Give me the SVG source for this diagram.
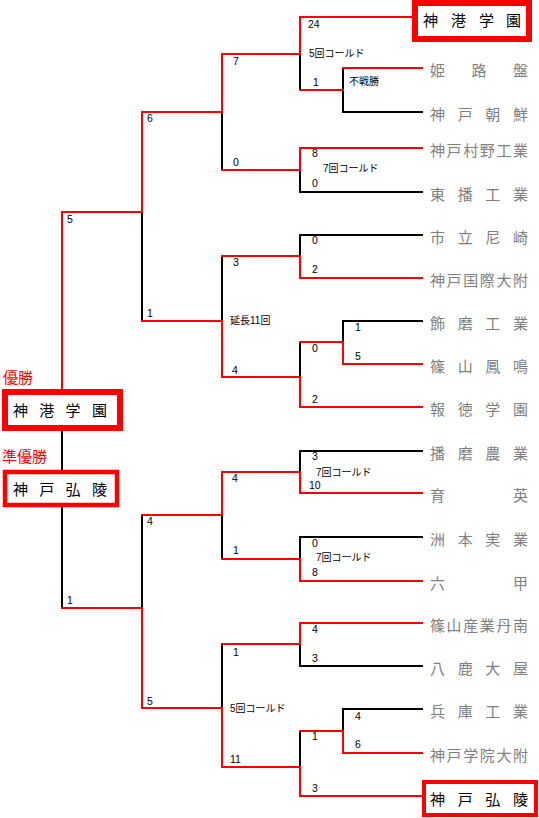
<svg xmlns="http://www.w3.org/2000/svg" width="539" height="818" viewBox="0 0 539 818">
<style>
.r{stroke:#ff0000;stroke-width:2;fill:none;stroke-linecap:square}
.k{stroke:#000;stroke-width:2;fill:none;stroke-linecap:square}
.t{font-family:"Noto Sans CJK JP","Liberation Sans",sans-serif;font-size:15px;fill:#7f7f7f}
.w{font-family:"Noto Sans CJK JP","Liberation Sans",sans-serif;font-size:15px;fill:#000}
.n{font-family:"Liberation Sans","Noto Sans CJK JP",sans-serif;font-size:10.5px;fill:#000}
.a{font-family:"Liberation Sans","Noto Sans CJK JP",sans-serif;font-size:10px;fill:#000}
.lab{font-family:"Noto Sans CJK JP","Liberation Sans",sans-serif;font-size:15px;fill:#ff0000}
.box{fill:#fff;stroke:#ff0000}
</style>
<rect width="539" height="818" fill="#fff"/>
<g id="connectors">
<path class="k" d="M343 112H422 M300 192H422 M300 235H422 M343 321H422 M300 451H422 M300 537H422 M300 666H422 M343 709H422"/>
<path class="k" d="M343 68V112 M343 321V342 M343 709V731 M300 54V90 M300 170V192 M300 235V256 M300 342V377 M300 451V472 M300 537V559 M300 644V666 M300 731V767 M222 112V170 M222 256V321 M222 515V559 M222 644V708 M142 212V321 M142 515V608 M62 431V470 M62 507V608"/>
<path class="r" d="M300 17H412 M343 68H422 M300 148H422 M300 278H422 M343 364H422 M300 407H422 M300 493H422 M300 581H422 M300 623H422 M343 753H422 M300 796H422"/>
<path class="r" d="M300 90H343 M300 342H343V364 M300 731H343V753"/>
<path class="r" d="M300 17V54H222 M300 148V170H222 M300 278V256H222 M300 407V377H222 M300 493V472H222 M300 581V559H222 M300 623V644H222 M300 796V767H222"/>
<path class="r" d="M222 54V112H142 M222 377V321H142 M222 472V515H142 M222 767V708H142"/>
<path class="r" d="M142 112V212H62V389 M142 708V608H62"/>
</g>
<g id="scores">
<text class="n" x="308" y="28">24</text>
<text class="a" x="309" y="57">5回コールド</text>
<text class="n" x="313" y="86">1</text>
<text class="a" x="349" y="85">不戦勝</text>
<text class="n" x="312" y="157">8</text>
<text class="a" x="323" y="172">7回コールド</text>
<text class="n" x="312" y="187">0</text>
<text class="n" x="233" y="65">7</text>
<text class="n" x="233" y="166">0</text>
<text class="n" x="147" y="122">6</text>
<text class="n" x="147" y="317">1</text>
<text class="n" x="67" y="223">5</text>
<text class="n" x="312" y="244">0</text>
<text class="n" x="312" y="273">2</text>
<text class="n" x="355" y="331">1</text>
<text class="n" x="355" y="360">5</text>
<text class="n" x="312" y="352">0</text>
<text class="n" x="312" y="403">2</text>
<text class="n" x="233" y="266">3</text>
<text class="a" x="230" y="324">延長11回</text>
<text class="n" x="232" y="374">4</text>
<text class="n" x="312" y="460">3</text>
<text class="a" x="316" y="476">7回コールド</text>
<text class="n" x="309" y="489">10</text>
<text class="n" x="232" y="482">4</text>
<text class="n" x="312" y="547">0</text>
<text class="a" x="316" y="561">7回コールド</text>
<text class="n" x="312" y="576">8</text>
<text class="n" x="233" y="554">1</text>
<text class="n" x="147" y="525">4</text>
<text class="n" x="67" y="604">1</text>
<text class="n" x="147" y="705">5</text>
<text class="n" x="312" y="633">4</text>
<text class="n" x="312" y="662">3</text>
<text class="n" x="233" y="656">1</text>
<text class="a" x="230" y="712">5回コールド</text>
<text class="n" x="355" y="720">4</text>
<text class="n" x="312" y="740">1</text>
<text class="n" x="355" y="748">6</text>
<text class="n" x="230" y="763">11</text>
<text class="n" x="312" y="792">3</text>
</g>
<g id="champion">
<text class="lab" x="3" y="383">優勝</text>
<rect class="box" x="5" y="392" width="115" height="36" stroke-width="6"/>
<text class="w" x="13 39.3 65.6 92" y="416">神港学園</text>
</g>
<g id="runnerup">
<text class="lab" x="2" y="462">準優勝</text>
<rect class="box" x="5" y="472" width="112" height="33" stroke-width="4.5"/>
<text class="w" x="13 39.3 65.6 92" y="495">神戸弘陵</text>
</g>
<g id="team-shinko">
<rect class="box" x="415" y="3" width="114" height="36" stroke-width="6"/>
<text class="w" x="423 451 479 506" y="26">神港学園</text>
</g>
<g id="team-himeji"><text class="t" x="430 471.5 513" y="76">姫路盤</text></g>
<g id="team-kobechosen"><text class="t" x="430 457.7 485.3 513" y="120">神戸朝鮮</text></g>
<g id="team-muranokogyo"><text class="t" x="430 446.6 463.2 479.8 496.4 513" y="156">神戸村野工業</text></g>
<g id="team-tobankogyo"><text class="t" x="430 457.7 485.3 513" y="200">東播工業</text></g>
<g id="team-amagasaki"><text class="t" x="430 457.7 485.3 513" y="243">市立尼崎</text></g>
<g id="team-kobekokusai"><text class="t" x="430 446.6 463.2 479.8 496.4 513" y="286">神戸国際大附</text></g>
<g id="team-shikama"><text class="t" x="430 457.7 485.3 513" y="329">飾磨工業</text></g>
<g id="team-sasayamahomei"><text class="t" x="430 457.7 485.3 513" y="372">篠山鳳鳴</text></g>
<g id="team-hotoku"><text class="t" x="430 457.7 485.3 513" y="415">報徳学園</text></g>
<g id="team-harimanogyo"><text class="t" x="430 457.7 485.3 513" y="459">播磨農業</text></g>
<g id="team-ikuei"><text class="t" x="430 513" y="501">育英</text></g>
<g id="team-sumoto"><text class="t" x="430 457.7 485.3 513" y="545">洲本実業</text></g>
<g id="team-rokko"><text class="t" x="430 513" y="589">六甲</text></g>
<g id="team-sasayamatannan"><text class="t" x="430 446.6 463.2 479.8 496.4 513" y="631">篠山産業丹南</text></g>
<g id="team-yokaoya"><text class="t" x="430 457.7 485.3 513" y="674">八鹿大屋</text></g>
<g id="team-hyogokogyo"><text class="t" x="430 457.7 485.3 513" y="717">兵庫工業</text></g>
<g id="team-kobegakuin"><text class="t" x="430 446.6 463.2 479.8 496.4 513" y="761">神戸学院大附</text></g>
<g id="team-kobekoryo">
<rect class="box" x="424" y="782" width="112" height="33" stroke-width="4"/>
<text class="w" x="430 457.7 485.3 513" y="805">神戸弘陵</text>
</g>
</svg>
